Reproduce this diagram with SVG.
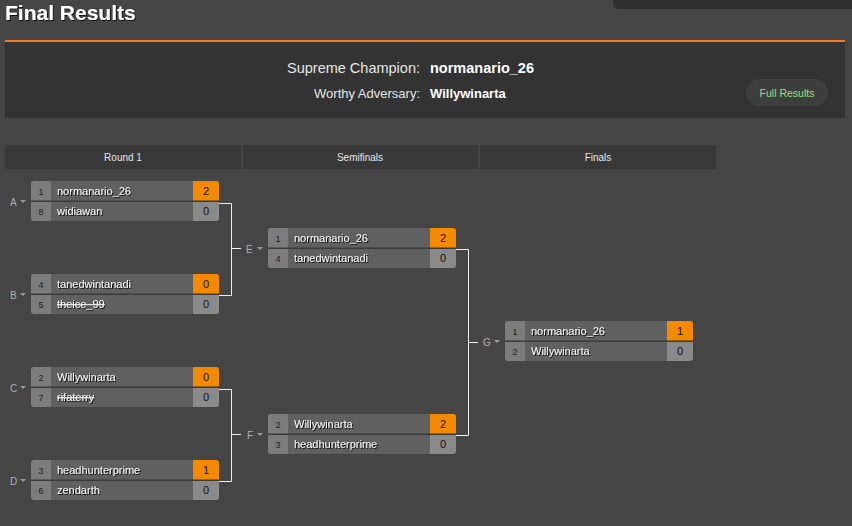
<svg xmlns="http://www.w3.org/2000/svg" width="852" height="526" viewBox="0 0 852 526">
<defs>
<style>
.t{font-family:"Liberation Sans",Arial,sans-serif}
.seed{font-family:"Liberation Sans",Arial,sans-serif;font-size:9px;fill:#1e1e1e;text-anchor:middle}
.name{font-family:"Liberation Sans",Arial,sans-serif;font-size:11px;fill:#f2f2f2}
.score{font-family:"Liberation Sans",Arial,sans-serif;font-size:11px;fill:#111;text-anchor:middle}
.lbl{font-family:"Liberation Sans",Arial,sans-serif;font-size:10px;fill:#b0b0b0}
.hdr{font-family:"Liberation Sans",Arial,sans-serif;font-size:10px;fill:#e6e6e6;text-anchor:middle}
.conn{fill:none;stroke:#f0f0f0;stroke-width:1}
</style>
<filter id="sh" x="-5%" y="-20%" width="110%" height="140%"><feDropShadow dx="1" dy="1" stdDeviation="0.4" flood-color="#000" flood-opacity="0.8"/></filter>
<clipPath id="mclip"><rect x="0" y="0" width="188" height="40" rx="3"/></clipPath>
<g id="matchbox">
<g clip-path="url(#mclip)">
<rect x="0" y="0" width="188" height="40" fill="#606060"/>
<rect x="0" y="0" width="20" height="40" fill="#7c7c7c"/>
<rect x="162" y="0" width="26" height="20" fill="#f58a00"/>
<rect x="162" y="20" width="26" height="20" fill="#8a8a8a"/>
<rect x="0" y="19.5" width="188" height="1.5" fill="#3a3a3a"/>
</g>
</g>
<path id="tri" d="M0,0 h6 l-3,3 z" fill="#9a9a9a"/>
</defs>
<rect width="852" height="526" fill="#454545"/>
<g id="topright"><path d="M613,0 H852 V9 H619 Q613,9 613,3 Z" fill="#303030"/></g>
<text class="t" x="5" y="20" font-size="21" font-weight="bold" fill="#ffffff" filter="url(#sh)">Final Results</text>
<g id="summary">
<rect x="5" y="42" width="840" height="76" fill="#333333"/>
<rect x="5" y="40" width="840" height="2" fill="#f47b20"/>
<text class="t" x="420" y="73" font-size="14.5" fill="#e6e6e6" text-anchor="end">Supreme Champion:</text>
<text class="t" x="430" y="73" font-size="14.5" font-weight="bold" fill="#ffffff">normanario_26</text>
<text class="t" x="420" y="98" font-size="13" fill="#e6e6e6" text-anchor="end">Worthy Adversary:</text>
<text class="t" x="430" y="98" font-size="13" font-weight="bold" fill="#ffffff">Willywinarta</text>
<rect x="746" y="79" width="82" height="27" rx="13.5" fill="#3e3e3e"/>
<text class="t" x="787" y="97" font-size="10.5" fill="#92e07a" text-anchor="middle">Full Results</text>
</g>
<g id="headers">
<rect x="5" y="145" width="236" height="24" fill="#383838"/>
<rect x="243" y="145" width="235" height="24" fill="#383838"/>
<rect x="480" y="145" width="236" height="24" fill="#383838"/>
<text class="hdr" x="123" y="161">Round 1</text>
<text class="hdr" x="360" y="161">Semifinals</text>
<text class="hdr" x="598" y="161">Finals</text>
</g>
<g id="connectors">
<path class="conn" d="M219,203.5 H231.5 V295.5 H219 M231.5,248.5 H241"/>
<path class="conn" d="M219,389.5 H231.5 V481.5 H219 M231.5,434.5 H241"/>
<path class="conn" d="M456,249.5 H468.5 V435.5 H456 M468.5,342.5 H478"/>
</g>
<g id="match-A" transform="translate(31,181)">
<use href="#matchbox"/>
<text class="lbl" x="-21" y="25">A</text><use href="#tri" x="-11" y="19"/>
<text class="seed" x="10" y="13.5">1</text><text class="name" x="26" y="14" filter="url(#sh)">normanario_26</text><text class="score" x="175" y="14">2</text>
<text class="seed" x="10" y="33.5">8</text><text class="name" x="26" y="34" filter="url(#sh)">widiawan</text><text class="score" x="175" y="34">0</text>
</g>
<g id="match-B" transform="translate(31,274)">
<use href="#matchbox"/>
<text class="lbl" x="-21" y="25">B</text><use href="#tri" x="-11" y="19"/>
<text class="seed" x="10" y="13.5">4</text><text class="name" x="26" y="14" filter="url(#sh)">tanedwintanadi</text><text class="score" x="175" y="14">0</text>
<text class="seed" x="10" y="33.5">5</text><text class="name" x="26" y="34" filter="url(#sh)" text-decoration="line-through">theice_99</text><text class="score" x="175" y="34">0</text>
</g>
<g id="match-C" transform="translate(31,367)">
<use href="#matchbox"/>
<text class="lbl" x="-21" y="25">C</text><use href="#tri" x="-11" y="19"/>
<text class="seed" x="10" y="13.5">2</text><text class="name" x="26" y="14" filter="url(#sh)">Willywinarta</text><text class="score" x="175" y="14">0</text>
<text class="seed" x="10" y="33.5">7</text><text class="name" x="26" y="34" filter="url(#sh)" text-decoration="line-through">rifaterry</text><text class="score" x="175" y="34">0</text>
</g>
<g id="match-D" transform="translate(31,460)">
<use href="#matchbox"/>
<text class="lbl" x="-21" y="25">D</text><use href="#tri" x="-11" y="19"/>
<text class="seed" x="10" y="13.5">3</text><text class="name" x="26" y="14" filter="url(#sh)">headhunterprime</text><text class="score" x="175" y="14">1</text>
<text class="seed" x="10" y="33.5">6</text><text class="name" x="26" y="34" filter="url(#sh)">zendarth</text><text class="score" x="175" y="34">0</text>
</g>
<g id="match-E" transform="translate(268,228)">
<use href="#matchbox"/>
<text class="lbl" x="-22" y="25">E</text><use href="#tri" x="-11" y="19"/>
<text class="seed" x="10" y="13.5">1</text><text class="name" x="26" y="14" filter="url(#sh)">normanario_26</text><text class="score" x="175" y="14">2</text>
<text class="seed" x="10" y="33.5">4</text><text class="name" x="26" y="34" filter="url(#sh)">tanedwintanadi</text><text class="score" x="175" y="34">0</text>
</g>
<g id="match-F" transform="translate(268,414)">
<use href="#matchbox"/>
<text class="lbl" x="-21" y="25">F</text><use href="#tri" x="-11" y="19"/>
<text class="seed" x="10" y="13.5">2</text><text class="name" x="26" y="14" filter="url(#sh)">Willywinarta</text><text class="score" x="175" y="14">2</text>
<text class="seed" x="10" y="33.5">3</text><text class="name" x="26" y="34" filter="url(#sh)">headhunterprime</text><text class="score" x="175" y="34">0</text>
</g>
<g id="match-G" transform="translate(505,321)">
<use href="#matchbox"/>
<text class="lbl" x="-22" y="25">G</text><use href="#tri" x="-11" y="19"/>
<text class="seed" x="10" y="13.5">1</text><text class="name" x="26" y="14" filter="url(#sh)">normanario_26</text><text class="score" x="175" y="14">1</text>
<text class="seed" x="10" y="33.5">2</text><text class="name" x="26" y="34" filter="url(#sh)">Willywinarta</text><text class="score" x="175" y="34">0</text>
</g>
</svg>
